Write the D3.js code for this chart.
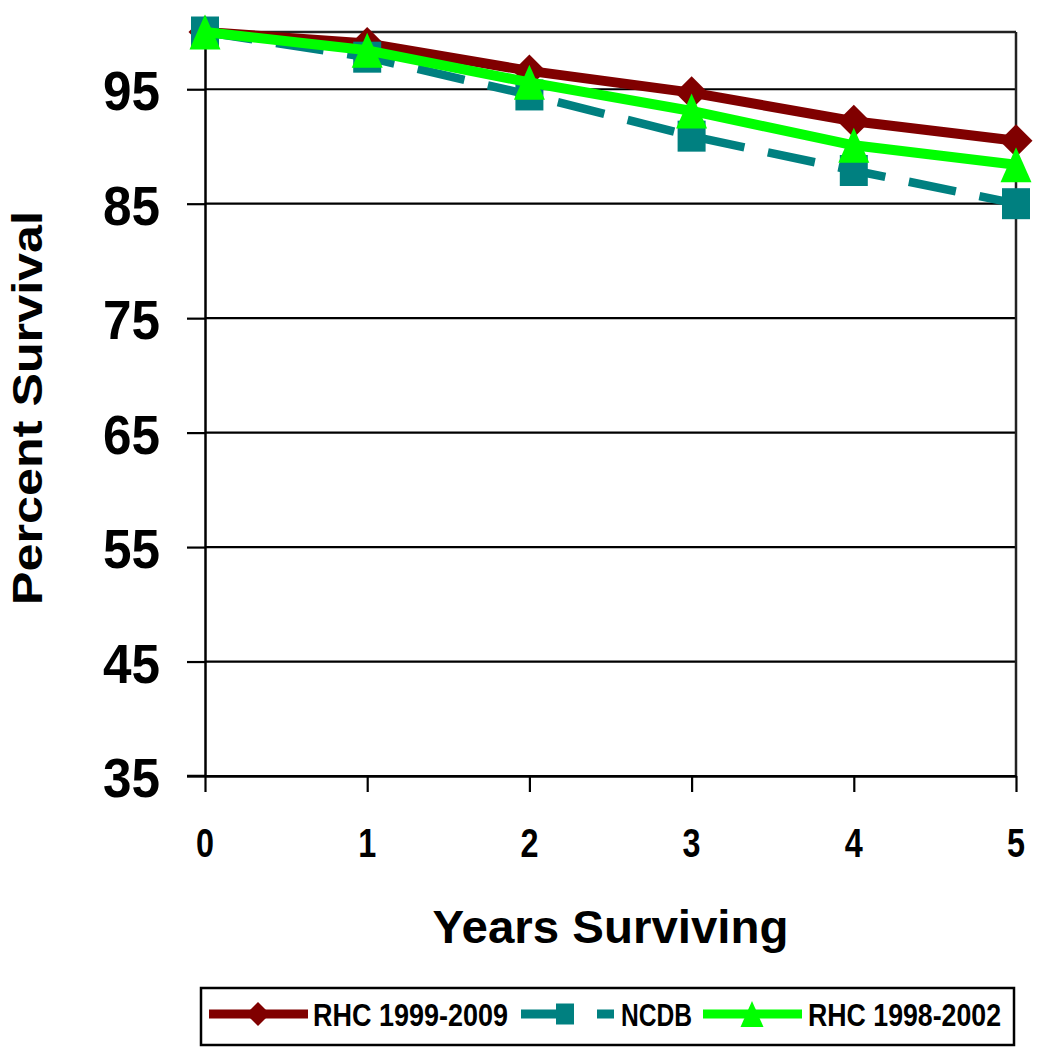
<!DOCTYPE html>
<html>
<head>
<meta charset="utf-8">
<script src="https://cdn.jsdelivr.net/npm/d3@7"></script>
<style>
  html, body { margin: 0; padding: 0; background: #fff; }
  svg { display: block; }
  text { font-family: "Liberation Sans", Arial, sans-serif; font-weight: bold; fill: #000; }
</style>
</head>
<body>
<svg id="chart" width="1038" height="1058"></svg>
<script>
// ---- data ----
const years = [0, 1, 2, 3, 4, 5];
const rhc1999_2009 = [100, 99.0, 96.6, 94.7, 92.2, 90.5];
const ncdb = [100, 97.8, 94.5, 90.9, 87.9, 85.0];
const rhc1998_2002 = [100, 98.4, 95.6, 93.1, 90.1, 88.4];
const seriesNames = ["RHC 1999-2009", "NCDB", "RHC 1998-2002"];
const yTicks = [35, 45, 55, 65, 75, 85, 95];
const xTicks = [0, 1, 2, 3, 4, 5];

const svg = d3.select("#chart");
const L = 205, R = 1016, T = 32, B = 776;
const x = d3.scaleLinear().domain([0, 5]).range([L, R]);
const y = d3.scaleLinear().domain([35, 100]).range([B, T]);

// gridlines
svg.append("g").selectAll("line").data(yTicks).join("line")
  .attr("x1", L).attr("x2", R)
  .attr("y1", d => y(d)).attr("y2", d => y(d))
  .attr("stroke", "#000").attr("stroke-width", 2.2);

// plot border (top, right)
svg.append("line").attr("x1", L).attr("x2", R).attr("y1", y(100)).attr("y2", y(100))
  .attr("stroke", "#222").attr("stroke-width", 2.5);
svg.append("line").attr("x1", R).attr("x2", R).attr("y1", y(100)).attr("y2", B)
  .attr("stroke", "#222").attr("stroke-width", 2.5);

// y axis
const yAxis = svg.append("g").attr("transform", `translate(${L},0)`)
  .call(d3.axisLeft(y).tickValues(yTicks).tickSize(18).tickSizeOuter(0).tickFormat(""));
yAxis.select(".domain").attr("stroke", "#000").attr("stroke-width", 2.5);
yAxis.selectAll(".tick line").attr("stroke", "#000").attr("stroke-width", 2.2);
// x axis
const xAxis = svg.append("g").attr("transform", `translate(0,${B})`)
  .call(d3.axisBottom(x).tickValues(xTicks).tickSize(16).tickSizeOuter(0).tickFormat(""));
xAxis.select(".domain").attr("stroke", "#000").attr("stroke-width", 2.5);
xAxis.selectAll(".tick line").attr("stroke", "#000").attr("stroke-width", 2.2);
// extend x axis line left over the y tick
svg.append("line").attr("x1", L - 18).attr("x2", L).attr("y1", B).attr("y2", B)
  .attr("stroke", "#000").attr("stroke-width", 2.5);

// y tick labels
svg.append("g").selectAll("text").data(yTicks).join("text")
  .attr("x", 160).attr("y", d => y(d) + 21)
  .attr("text-anchor", "end")
  .attr("font-size", 55)
  .attr("textLength", 57).attr("lengthAdjust", "spacingAndGlyphs")
  .text(d => d);

// x tick labels
svg.append("g").selectAll("text").data(xTicks).join("text")
  .attr("x", d => x(d)).attr("y", 857)
  .attr("text-anchor", "middle")
  .attr("font-size", 40)
  .attr("textLength", 18).attr("lengthAdjust", "spacingAndGlyphs")
  .text(d => d);

// axis titles
svg.append("text").attr("x", (L + R) / 2).attr("y", 943)
  .attr("text-anchor", "middle").attr("font-size", 46)
  .attr("textLength", 356).attr("lengthAdjust", "spacingAndGlyphs")
  .text("Years Surviving");
svg.append("text").attr("transform", "translate(42,408) rotate(-90)")
  .attr("text-anchor", "middle").attr("font-size", 42)
  .attr("textLength", 394).attr("lengthAdjust", "spacingAndGlyphs")
  .text("Percent Survival");

// marker shapes
function diamond(s) { const h = s / 2; return `M0,${-h}L${h},0L0,${h}L${-h},0Z`; }
function square(w, h) { return `M${-w/2},${-h/2}h${w}v${h}h${-w}Z`; }
function triangle(w, h) { return `M0,${-h/2}L${w/2},${h/2}L${-w/2},${h/2}Z`; }

const series = [
  { name: seriesNames[0], values: rhc1999_2009, color: "#800000", width: 10, dash: null, marker: diamond(33) },
  { name: seriesNames[1], values: ncdb, color: "#008080", width: 8.5, dash: "48,24", marker: square(28, 31) },
  { name: seriesNames[2], values: rhc1998_2002, color: "#00FF00", width: 10, dash: null, marker: triangle(31, 35) }
];

const line = d3.line().x((d, i) => x(years[i])).y(d => y(d));

series.forEach(s => {
  const g = svg.append("g");
  g.append("path").datum(s.values).attr("d", line)
    .attr("fill", "none").attr("stroke", s.color).attr("stroke-width", s.width)
    .attr("stroke-dasharray", s.dash).attr("stroke-linejoin", "round");
  g.selectAll("path.m").data(s.values).join("path").attr("class", "m")
    .attr("transform", (d, i) => `translate(${x(years[i])},${y(d)})`)
    .attr("d", s.marker).attr("fill", s.color);
});

// legend
const lg = svg.append("g");
lg.append("rect").attr("x", 201).attr("y", 988).attr("width", 813).attr("height", 57)
  .attr("fill", "#fff").attr("stroke", "#000").attr("stroke-width", 2.5);
const ly = 1014;
const legendItems = [
  { s: series[0], x1: 209, x2: 308, mx: 258, marker: diamond(24), tx: 313, tl: 195 },
  { s: series[1], x1: 521, x2: 614, mx: 565, marker: square(18, 21), tx: 621, tl: 71 },
  { s: series[2], x1: 703, x2: 802, mx: 752, marker: triangle(23, 26), tx: 808, tl: 193 }
];
legendItems.forEach(it => {
  lg.append("line").attr("x1", it.x1).attr("x2", it.x2).attr("y1", ly).attr("y2", ly)
    .attr("stroke", it.s.color).attr("stroke-width", 9)
    .attr("stroke-dasharray", it.s.dash ? "36,40" : null);
  lg.append("path").attr("transform", `translate(${it.mx},${ly})`).attr("d", it.marker)
    .attr("fill", it.s.color);
  lg.append("text").attr("x", it.tx).attr("y", 1026).attr("font-size", 31)
    .attr("textLength", it.tl).attr("lengthAdjust", "spacingAndGlyphs")
    .text(it.s.name);
});
</script>
</body>
</html>
